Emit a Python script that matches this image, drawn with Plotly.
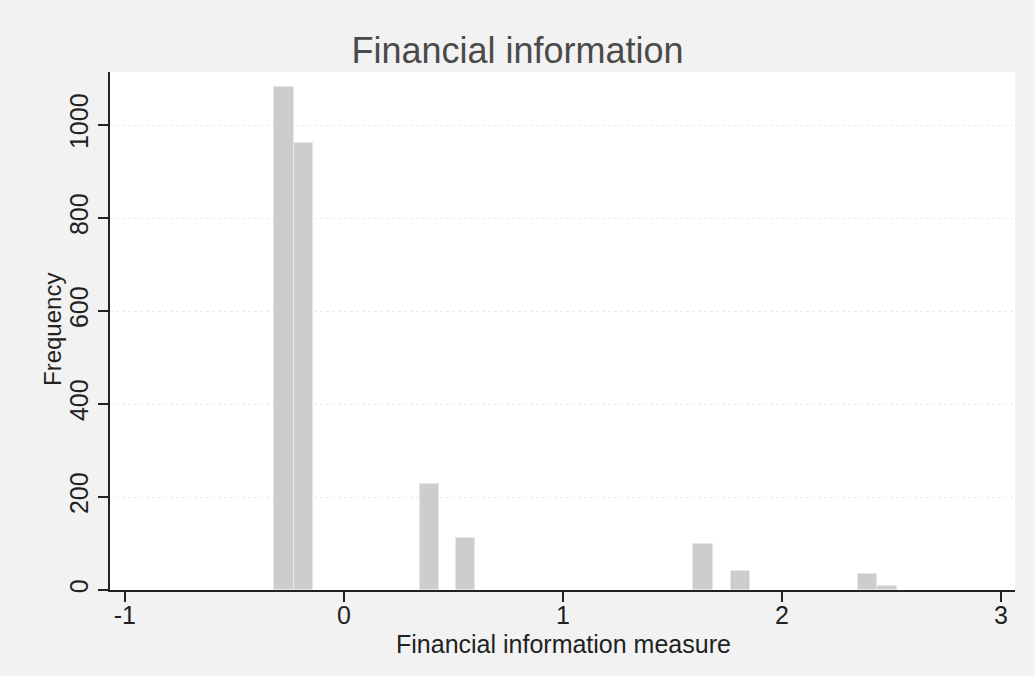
import plotly.graph_objects as go

bin_centers = [-0.274, -0.185, 0.39, 0.555, 1.64, 1.81, 2.39, 2.48]
frequencies = [1082, 961, 228, 112, 99, 41, 34, 9]
bin_width = 0.089
x_ticks = [-1, 0, 1, 2, 3]
y_ticks = [0, 200, 400, 600, 800, 1000]

fig = go.Figure()
fig.add_trace(go.Bar(
    x=bin_centers, y=frequencies, width=[bin_width] * len(bin_centers),
    marker=dict(color="#cbcdce", line=dict(color="#e6e8e8", width=1)),
))

font = "Liberation Sans, Arial, sans-serif"
W, H = 1035, 676
ml, mr, mt, mb = 110, 20, 72, 86
pw, ph = W - ml - mr, H - mt - mb

fig.update_layout(
    width=W, height=H,
    margin=dict(l=ml, r=mr, t=mt, b=mb),
    paper_bgcolor="#f2f2f2", plot_bgcolor="#ffffff",
    title=dict(text="Financial information", x=0.5, xanchor="center", y=0.925, yanchor="middle",
               font=dict(family=font, size=36, color="#4a4a4a")),
    font=dict(family=font, color="#222222"),
    showlegend=False, bargap=0,
)
fig.update_xaxes(
    range=[-1.068, 3.064], tickvals=x_ticks, ticktext=[str(v) for v in x_ticks],
    ticks="outside", ticklen=10, tickwidth=1.5, tickcolor="#222",
    showline=True, linecolor="#222", linewidth=2, showgrid=False, zeroline=False,
    tickfont=dict(size=25, family=font, color="#222"), ticklabelstandoff=-8,
)
fig.update_yaxes(
    range=[0, 1114], tickvals=y_ticks, ticktext=[str(v) for v in y_ticks],
    ticks="outside", ticklen=10, tickwidth=1.5, tickcolor="#222", tickangle=-90,
    showline=True, linecolor="#222", linewidth=2,
    showgrid=True, gridcolor="#ececec", griddash="dot", gridwidth=1, zeroline=False,
    tickfont=dict(size=25, family=font, color="#222"),
)
fig.add_annotation(text="Financial information measure", xref="paper", yref="paper",
                   x=(563 - ml) / pw, y=-(644 - (H - mb)) / ph, xanchor="center", yanchor="middle",
                   showarrow=False, font=dict(size=25, family=font, color="#222"))
fig.add_annotation(text="Frequency", xref="paper", yref="paper", textangle=-90,
                   x=(52 - ml) / pw, y=((H - mb) - 330) / ph, xanchor="center", yanchor="middle",
                   showarrow=False, font=dict(size=24, family=font, color="#222"))

fig.write_html("out.html")
